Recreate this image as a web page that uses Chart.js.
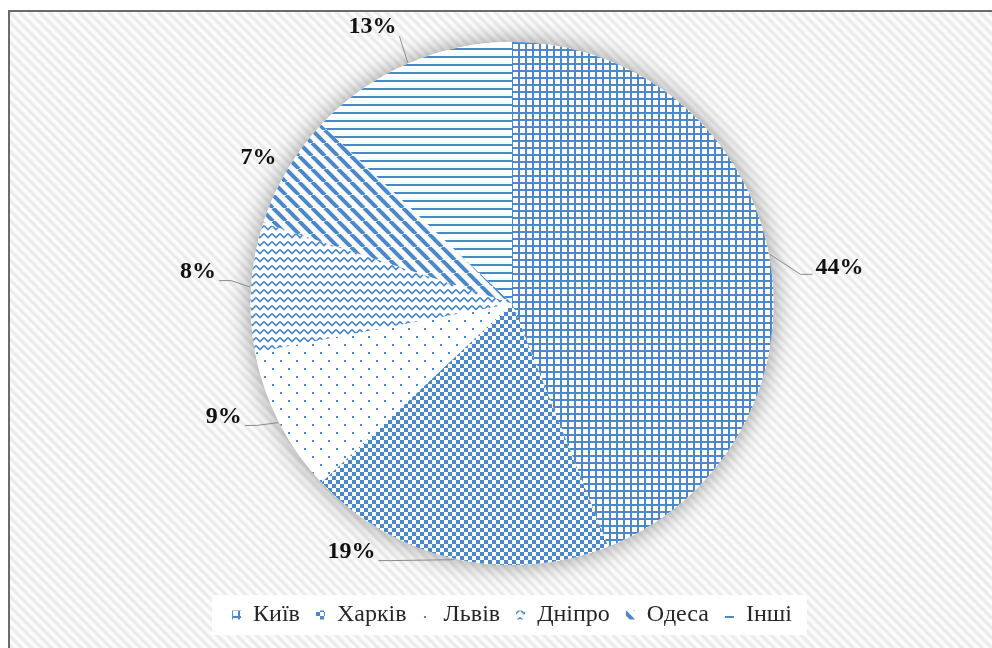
<!DOCTYPE html>
<html>
<head>
<meta charset="utf-8">
<script src="https://cdn.jsdelivr.net/npm/chart.js@4.4.1/dist/chart.umd.min.js"></script>
<style>
  body { margin: 0; width: 992px; height: 648px; overflow: hidden; background: #fff; position: relative; }
  #frame {
    position: absolute; left: 8px; top: 10px; width: 1000px; height: 660px;
    border-top: 2px solid #6b6b6b; border-left: 2px solid #6b6b6b;
    background: repeating-linear-gradient(45deg, #fcfcfc 0px, #fcfcfc 2px, #ebebeb 3.5px, #ebebeb 5px, #fcfcfc 7px);
  }
  #c { position: absolute; left: 0; top: 0; }
</style>
</head>
<body>
<div id="frame"></div>
<canvas id="c" width="992" height="648"></canvas>
<script>
// дані діаграми
const categories = ['Київ', 'Харків', 'Львів', 'Дніпро', 'Одеса', 'Інші'];
const shares = [44, 19, 9, 8, 7, 13];

const BLUE = '#4a88cb';
const canvas = document.getElementById('c');
const ctx = canvas.getContext('2d');

// візерунки заливки сегментів
function makePattern(w, h, draw) {
  const c = document.createElement('canvas');
  c.width = w; c.height = h;
  const g = c.getContext('2d');
  g.fillStyle = '#fff';
  g.fillRect(0, 0, w, h);
  g.fillStyle = BLUE;
  g.strokeStyle = BLUE;
  draw(g, w, h);
  return ctx.createPattern(c, 'repeat');
}

const patterns = [
  makePattern(7, 7, g => { g.fillRect(0, 0, 7, 2); g.fillRect(0, 0, 2, 7); }),
  makePattern(8, 8, g => { g.fillRect(0, 0, 4, 4); g.fillRect(4, 4, 4, 4); }),
  makePattern(16, 16, g => { g.fillRect(0, 0, 2, 2); g.fillRect(8, 8, 2, 2); }),
  makePattern(8, 8, g => {
    g.lineWidth = 1.6;
    g.beginPath(); g.moveTo(0, 1.5); g.lineTo(4, 5.5); g.lineTo(8, 1.5); g.stroke();
  }),
  makePattern(13, 13, g => {
    g.lineWidth = 4;
    [-13, 0, 13].forEach(k => { g.beginPath(); g.moveTo(k, 0); g.lineTo(k + 13, 13); g.stroke(); });
  }),
  makePattern(8, 8, g => { g.fillRect(0, 0, 8, 2); })
];

// тінь під кругом
const pieShadow = {
  id: 'pieShadow',
  beforeDatasetsDraw(chart) {
    const arc = chart.getDatasetMeta(0).data[0];
    if (!arc) return;
    const p = arc.getProps(['x', 'y', 'outerRadius'], true);
    const c = chart.ctx;
    c.save();
    c.shadowColor = 'rgba(0,0,0,0.4)';
    c.shadowBlur = 24;
    c.fillStyle = '#fff';
    c.beginPath();
    c.arc(p.x, p.y, p.outerRadius, 0, Math.PI * 2);
    c.fill();
    c.restore();
  }
};

// біле тло легенди
const legendBg = {
  id: 'legendBg',
  beforeDraw(chart) {
    const boxes = chart.legend && chart.legend.legendHitBoxes;
    if (!boxes || !boxes.length) return;
    const left = Math.min(...boxes.map(b => b.left));
    const right = Math.max(...boxes.map(b => b.left + b.width));
    const top = Math.min(...boxes.map(b => b.top));
    const bottom = Math.max(...boxes.map(b => b.top + b.height));
    chart.ctx.save();
    chart.ctx.fillStyle = '#fff';
    chart.ctx.fillRect(left - 20, top - 8, right - left + 35, bottom - top + 16);
    chart.ctx.restore();
  }
};

// підписи відсотків з лініями виносок
const sliceLabels = {
  id: 'sliceLabels',
  afterDatasetsDraw(chart, args, opts) {
    const c = chart.ctx;
    const arcs = chart.getDatasetMeta(0).data;
    const values = chart.data.datasets[0].data;
    c.save();
    c.font = opts.font;
    c.textAlign = 'center';
    c.textBaseline = 'middle';
    arcs.forEach((arc, i) => {
      const p = arc.getProps(['x', 'y', 'startAngle', 'endAngle', 'outerRadius'], true);
      const mid = (p.startAngle + p.endAngle) / 2;
      const a = mid + opts.turn[i] * Math.PI / 180;
      const d = p.outerRadius + opts.gap[i];
      const lx = p.x + Math.cos(a) * d;
      const ly = p.y + Math.sin(a) * d;
      const text = values[i] + '%';
      const w = c.measureText(text).width;
      const ex = p.x + Math.cos(mid) * (p.outerRadius + 1);
      const ey = p.y + Math.sin(mid) * (p.outerRadius + 1);
      const right = lx > p.x;
      const ax = right ? lx - w / 2 - 3 : lx + w / 2 + 3;
      const ay = ly + (right ? 7 : 9);
      if (Math.hypot(ax - ex, ay - ey) > 20) {
        c.strokeStyle = opts.lineColor;
        c.lineWidth = 1;
        c.beginPath();
        c.moveTo(ex, ey);
        if (Math.abs(ax - ex) > Math.abs(ay - ey)) c.lineTo(ax + (right ? -12 : 12), ay);
        c.lineTo(ax, ay);
        c.stroke();
      }
      c.fillStyle = opts.color;
      c.fillText(text, lx, ly);
    });
    c.restore();
  }
};

new Chart(canvas, {
  type: 'pie',
  data: {
    labels: categories,
    datasets: [{
      data: shares,
      backgroundColor: patterns,
      borderWidth: 0,
      hoverOffset: 0
    }]
  },
  options: {
    responsive: false,
    animation: false,
    events: [],
    layout: { padding: { top: 42, left: 32, bottom: 11 } },
    plugins: {
      legend: {
        position: 'bottom',
        title: { display: true, text: '', font: { size: 10 }, padding: 5 },
        labels: {
          boxWidth: 9,
          boxHeight: 9,
          padding: 16,
          color: '#262626',
          font: { family: 'Liberation Serif', size: 24 }
        }
      },
      tooltip: { enabled: false },
      sliceLabels: {
        font: 'bold 24px "Liberation Serif"',
        color: '#111',
        lineColor: '#8a8a8a',
        turn: [4.5, 20.3, 5.6, 2.2, -0.7, -3.4],
        gap: [68, 34, 48, 54, 31, 48]
      }
    }
  },
  plugins: [pieShadow, legendBg, sliceLabels]
});
</script>
</body>
</html>
